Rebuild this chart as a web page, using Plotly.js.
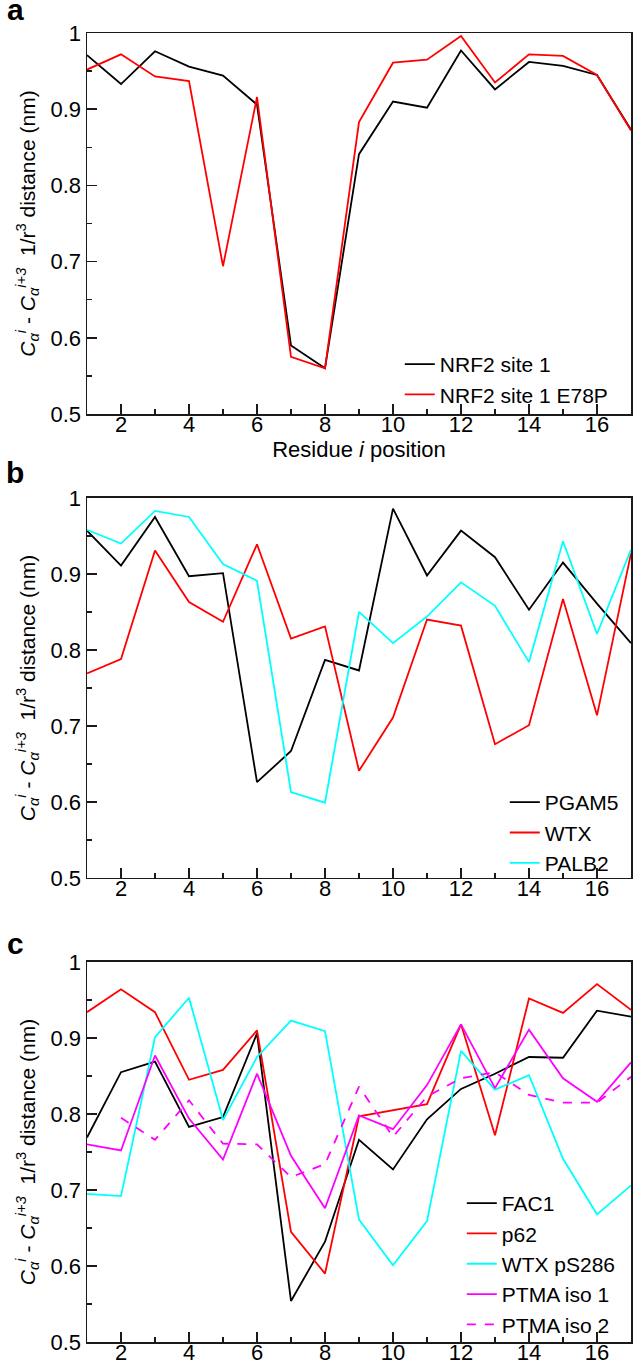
<!DOCTYPE html>
<html><head><meta charset="utf-8">
<script src="https://cdn.plot.ly/plotly-3.0.1.min.js"></script>
<style>body{margin:0;background:#fff}#chart{width:639px;height:1371px}</style>
</head><body><div id="chart"></div>
<script>
const residues = [1,2,3,4,5,6,7,8,9,10,11,12,13,14,15,16,17];
const residuesIso2 = [2,3,4,5,6,7,8,9,10,11,12,13,14,15,16,17];
// Panel a
const nrf2Site1 = [0.971,0.933,0.976,0.956,0.944,0.906,0.590,0.560,0.841,0.910,0.902,0.977,0.926,0.962,0.957,0.945,0.873];
const nrf2E78P  = [0.952,0.972,0.943,0.937,0.694,0.916,0.575,0.560,0.883,0.961,0.965,0.996,0.935,0.972,0.970,0.945,0.872];
// Panel b
const pgam5 = [0.957,0.911,0.975,0.897,0.901,0.626,0.667,0.787,0.773,0.986,0.898,0.957,0.922,0.853,0.915,0.861,0.809];
const wtx   = [0.769,0.788,0.931,0.863,0.837,0.939,0.815,0.831,0.641,0.711,0.840,0.832,0.676,0.701,0.867,0.714,0.927];
const palb2 = [0.958,0.940,0.983,0.975,0.913,0.891,0.613,0.599,0.850,0.809,0.844,0.889,0.858,0.784,0.943,0.821,0.932];
// Panel c
const fac1     = [0.769,0.855,0.869,0.783,0.796,0.906,0.554,0.632,0.766,0.727,0.793,0.833,0.853,0.875,0.874,0.936,0.928];
const p62      = [0.934,0.964,0.934,0.845,0.858,0.910,0.645,0.590,0.797,0.805,0.813,0.918,0.772,0.952,0.933,0.971,0.937];
const wtxPS286 = [0.695,0.692,0.901,0.953,0.792,0.875,0.923,0.909,0.661,0.601,0.659,0.883,0.832,0.851,0.741,0.668,0.706];
const ptmaIso1 = [0.760,0.752,0.877,0.794,0.740,0.853,0.745,0.676,0.798,0.780,0.838,0.918,0.834,0.911,0.847,0.816,0.868];
const ptmaIso2 = [0.795,0.766,0.818,0.761,0.760,0.717,0.734,0.836,0.770,0.823,0.847,0.855,0.825,0.815,0.815,0.849];

const FONT = 'Liberation Sans, Arial, Helvetica, sans-serif';
const LW = 1.8;
function tr(x, y, name, color, xa, ya, leg, dash) {
  return {x: x, y: y, name: name, type: 'scatter', mode: 'lines', xaxis: xa, yaxis: ya, legend: leg,
          line: {color: color, width: LW, dash: dash || 'solid'}, hoverinfo: 'skip'};
}
const data = [
  tr(residues, nrf2Site1, 'NRF2 site 1', '#000000', 'x', 'y', 'legend'),
  tr(residues, nrf2E78P, 'NRF2 site 1 E78P', '#ff0000', 'x', 'y', 'legend'),
  tr(residues, pgam5, 'PGAM5', '#000000', 'x2', 'y2', 'legend2'),
  tr(residues, wtx, 'WTX', '#ff0000', 'x2', 'y2', 'legend2'),
  tr(residues, palb2, 'PALB2', '#00ffff', 'x2', 'y2', 'legend2'),
  tr(residues, fac1, 'FAC1', '#000000', 'x3', 'y3', 'legend3'),
  tr(residues, p62, 'p62', '#ff0000', 'x3', 'y3', 'legend3'),
  tr(residues, wtxPS286, 'WTX pS286', '#00ffff', 'x3', 'y3', 'legend3'),
  tr(residues, ptmaIso1, 'PTMA iso 1', '#ff00ff', 'x3', 'y3', 'legend3'),
  tr(residuesIso2, ptmaIso2, 'PTMA iso 2', '#ff00ff', 'x3', 'y3', 'legend3', 'dash')
];

const yTitle = '<i>C</i><sub><i>α</i></sub><sup><i>i</i></sup> - <i>C</i><sub><i>α</i></sub><sup><i>i+3</i></sup>  1/r<sup>3</sup> distance (nm)';
function xax(anchor, title) {
  const a = {anchor: anchor, domain: [0, 1], range: [1, 17], tick0: 0, dtick: 2, ticks: 'inside', ticklen: 10,
    tickwidth: 1.5, tickcolor: '#1a1a1a', showline: true, linecolor: '#1a1a1a', linewidth: 1.5, mirror: true,
    showgrid: false, zeroline: false, tickfont: {family: FONT, size: 22, color: '#000'}, ticklabelstandoff: -10,
    minor: {ticks: 'inside', dtick: 1, tick0: 0, ticklen: 5, tickwidth: 1.5, tickcolor: '#1a1a1a', showgrid: false}};
  if (title) a.title = {text: title, font: {family: FONT, size: 22, color: '#000'}, standoff: 4};
  return a;
}
function yax(anchor, dom) {
  return {anchor: anchor, domain: dom, range: [0.5, 1], tick0: 0, dtick: 0.1, ticks: 'inside', ticklen: 10,
    tickwidth: 1.5, tickcolor: '#1a1a1a', showline: true, linecolor: '#1a1a1a', linewidth: 1.5, mirror: true,
    showgrid: false, zeroline: false, tickfont: {family: FONT, size: 22, color: '#000'},
    minor: {ticks: 'inside', dtick: 0.05, tick0: 0, ticklen: 5, tickwidth: 1.5, tickcolor: '#1a1a1a', showgrid: false},
    title: {text: yTitle, font: {family: FONT, size: 21, color: '#000'}, standoff: 9}};
}
function leg(x, y) {
  return {x: x, y: y, xanchor: 'left', yanchor: 'middle', bgcolor: 'rgba(0,0,0,0)', borderwidth: 0,
    font: {family: FONT, size: 21, color: '#000'}, tracegroupgap: 0};
}
const layout = {
  width: 639, height: 1371, margin: {l: 87, r: 8, t: 33, b: 29},
  paper_bgcolor: '#fff', plot_bgcolor: '#fff', showlegend: true,
  font: {family: FONT, color: '#000'},
  xaxis: xax('y', 'Residue <i>i</i> position'),
  yaxis: yax('x', [0.7089, 1]),
  xaxis2: xax('y2'),
  yaxis2: yax('x2', [0.3545, 0.6448]),
  xaxis3: xax('y3'),
  yaxis3: yax('x3', [0, 0.2903]),
  legend: leg(0.575, 0.7353),
  legend2: leg(0.768, 0.3892),
  legend3: leg(0.689, 0.0596),
  annotations: [
    {text: '<b>a</b>', x: -0.132, y: 1.0176, xref: 'paper', yref: 'paper', showarrow: false, xanchor: 'center', yanchor: 'middle', font: {family: FONT, size: 30, color: '#000'}},
    {text: '<b>b</b>', x: -0.132, y: 0.6645, xref: 'paper', yref: 'paper', showarrow: false, xanchor: 'center', yanchor: 'middle', font: {family: FONT, size: 30, color: '#000'}},
    {text: '<b>c</b>', x: -0.132, y: 0.3048, xref: 'paper', yref: 'paper', showarrow: false, xanchor: 'center', yanchor: 'middle', font: {family: FONT, size: 30, color: '#000'}}
  ]
};
Plotly.newPlot('chart', data, layout, {displayModeBar: false, staticPlot: true});
</script></body></html>
